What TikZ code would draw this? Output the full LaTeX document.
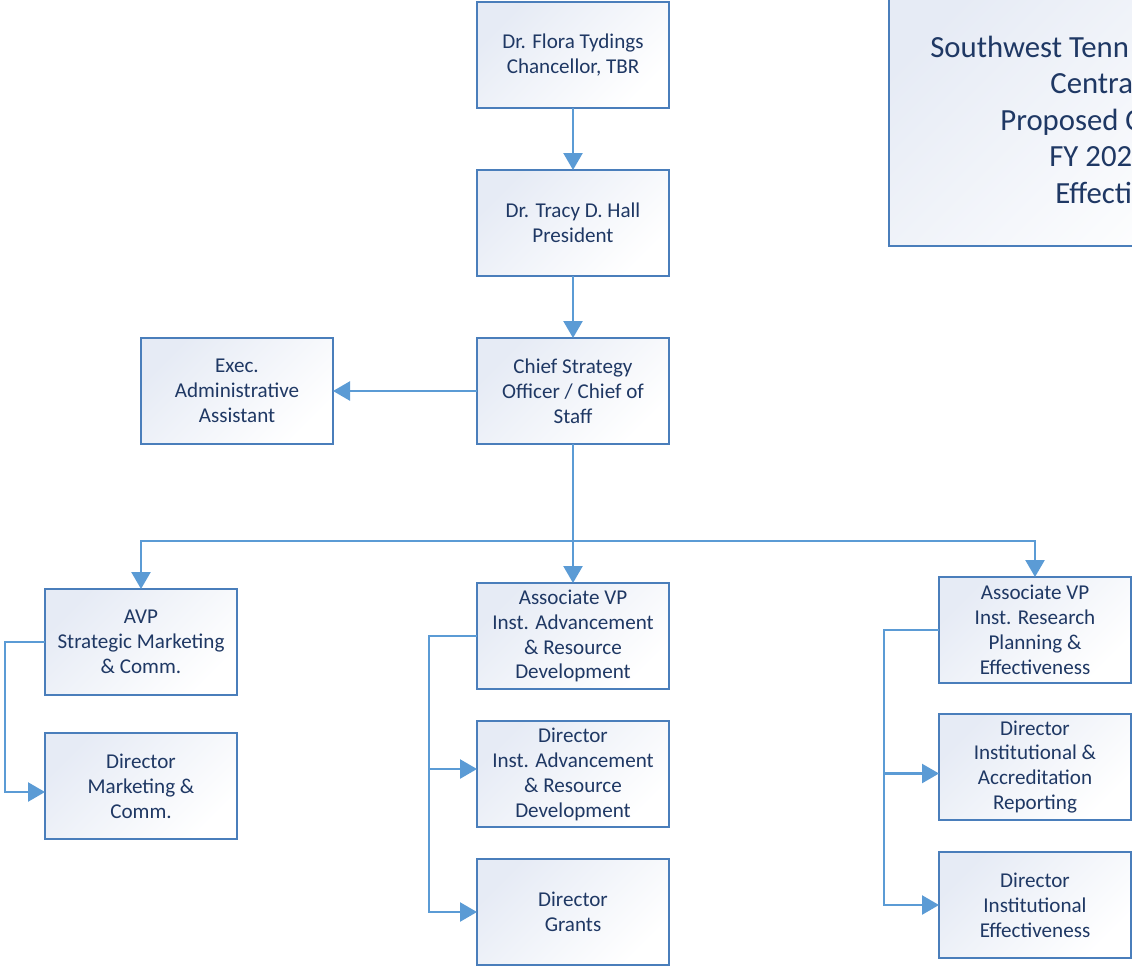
\documentclass[tikz,border=0pt]{standalone}
\usepackage{fontspec}
\setmainfont{Carlito}
\usetikzlibrary{positioning,arrows.meta}
\definecolor{boxline}{HTML}{4A7EBB}
\definecolor{linkline}{HTML}{5B9BD5}
\definecolor{boxtext}{HTML}{1F3864}
\definecolor{boxtint}{HTML}{E6EBF5}

\begin{document}
\begin{tikzpicture}[
  box/.style={draw=boxline, line width=1.3pt, top color=boxtint, bottom color=white, shading angle=45,
    minimum width=3.84cm, minimum height=2.12cm, inner sep=0pt, outer sep=0pt, align=center, text=boxtext,
    font=\fontsize{12}{14.2}\selectfont},
  title/.style={anchor=base west, inner sep=0pt, text=boxtext, font=\fontsize{17.5}{20.8}\selectfont},
  link/.style={draw=linkline, line width=1.4pt, -{Triangle[length=0.34cm,width=0.38cm]}},
  bus/.style={draw=linkline, line width=1.4pt},
]
\useasboundingbox (0,0) rectangle (22.64,-19.34);
\clip (0,0) rectangle (22.64,-19.34);

\path[draw=boxline, line width=1.3pt, top color=boxtint, bottom color=white, shading angle=45]
  (17.78,-4.92) rectangle (25.5,0.5);
\node[title] (t1) at (18.60,-1.14) {Southwest Tenn};
\node[title] (t2) at (21.00,-1.86) {Centra};
\node[title] (t3) at (20.00,-2.60) {Proposed C};
\node[title] (t4) at (20.98,-3.32) {FY 202};
\node[title] (t5) at (21.10,-4.06) {Effecti};

\node[box] (a) at (11.46,-1.10) {Dr. Flora Tydings\\Chancellor, TBR};
\node[box, below=1.24cm of a] (b) {Dr. Tracy D. Hall\\President};
\node[box, below=1.24cm of b] (c) {Chief Strategy\\Officer / Chief of\\Staff};
\node[box, left=2.88cm of c] (d) {Exec.\\Administrative\\Assistant};
\node[box, below=2.78cm of c] (e) {Associate VP\\Inst. Advancement\\\& Resource\\Development};
\node[box, left=4.8cm of e, yshift=-0.12cm] (f) {AVP\\Strategic Marketing\\\& Comm.};
\node[box, right=5.4cm of e, yshift=0.12cm] (g) {Associate VP\\Inst. Research\\Planning \&\\Effectiveness};
\node[box, below=0.76cm of f] (h) {Director\\Marketing \&\\Comm.};
\node[box, below=0.64cm of e] (i) {Director\\Inst. Advancement\\\& Resource\\Development};
\node[box, below=0.64cm of i] (j) {Director\\Grants};
\node[box, below=0.62cm of g] (k) {Director\\Institutional \&\\Accreditation\\Reporting};
\node[box, below=0.64cm of k] (l) {Director\\Institutional\\Effectiveness};

\draw[link] (a) -- (b);
\draw[link] (b) -- (c);
\draw[link] (c) -- (d);
\draw[bus] (c.south) -- ++(0,-1.94) coordinate (m);
\draw[link] (m) -| (f.north);
\draw[link] (m) -- (e.north);
\draw[link] (m) -| (g.north);
\draw[link] (f.west) -- ++(-0.8,0) |- ([yshift=-0.12cm]h.west);
\draw[link] (e.west) -- ++(-0.96,0) coordinate (n) |- (j.west);
\draw[link] (n) |- ([yshift=0.1cm]i.west);
\draw[link] (g.west) -- ++(-1.1,0) coordinate (o) |- (l.west);
\draw[link] (o) |- ([yshift=-0.13cm]k.west);
\end{tikzpicture}
\end{document}
